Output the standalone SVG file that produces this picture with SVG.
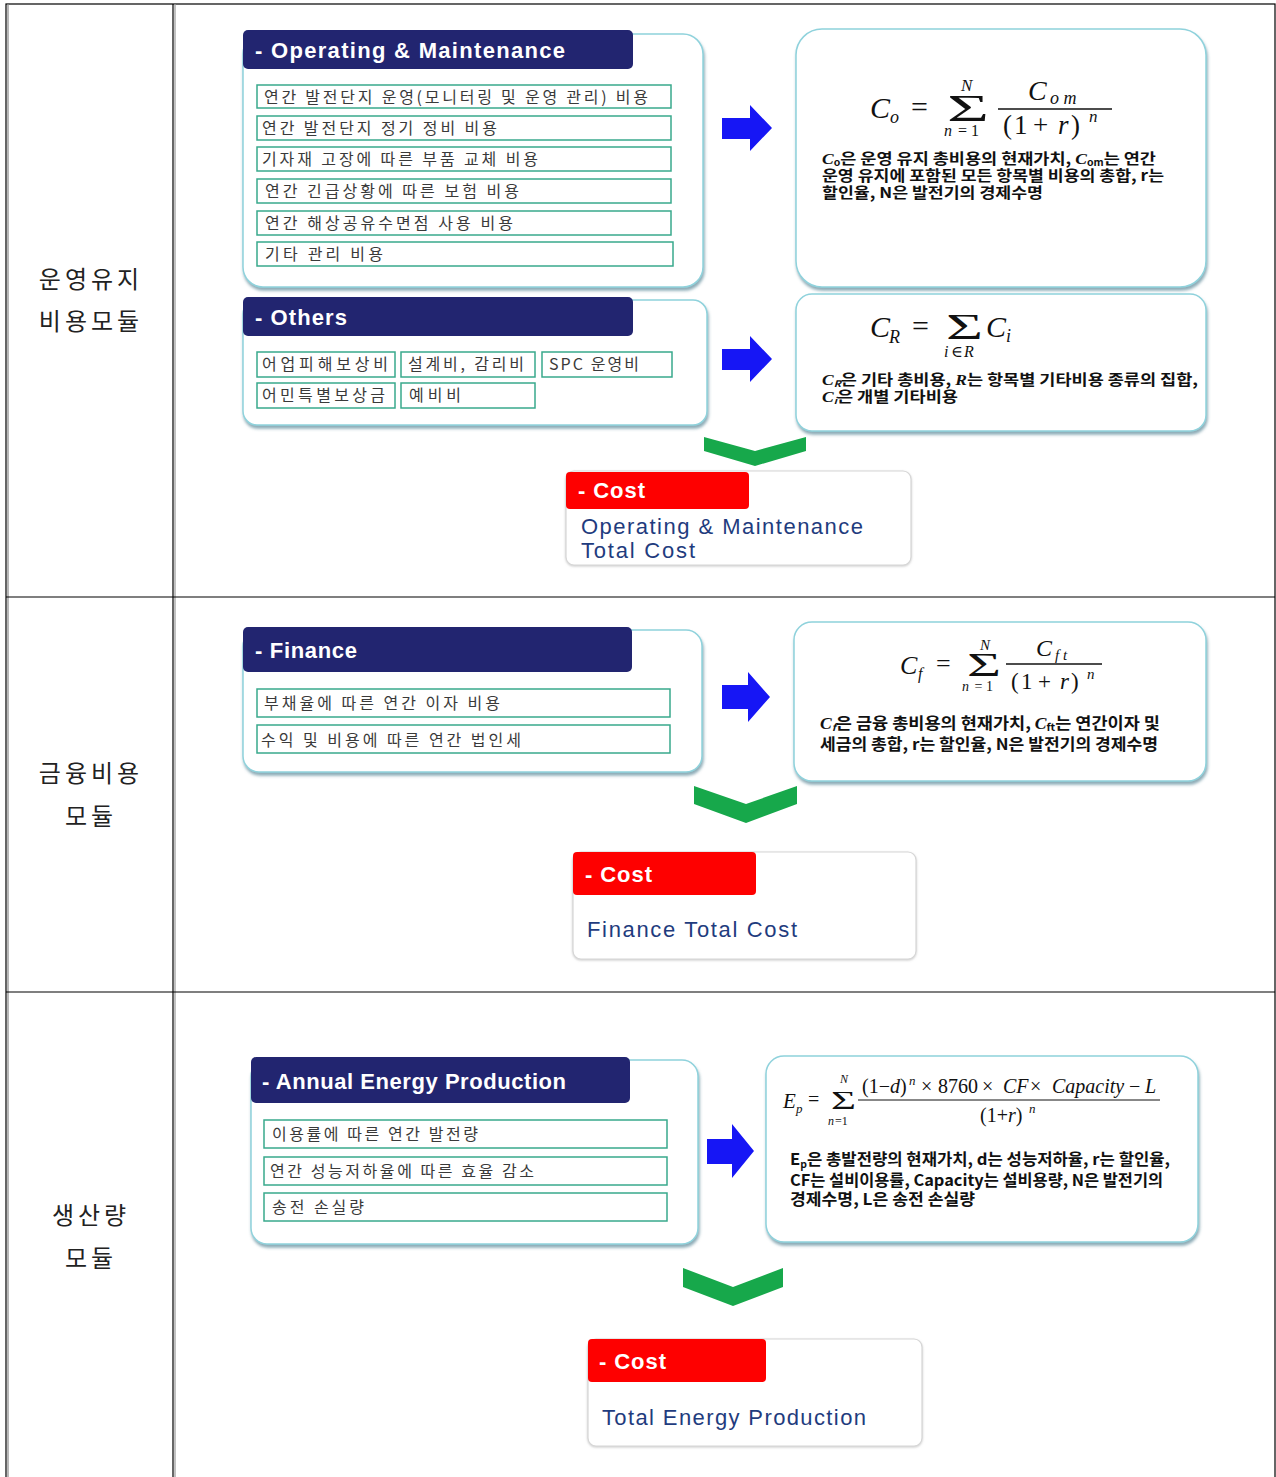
<svg xmlns="http://www.w3.org/2000/svg" width="1276" height="1477" viewBox="0 0 1276 1477">
<defs>
<filter id="sh" x="-5%" y="-5%" width="112%" height="115%">
<feDropShadow dx="1" dy="3" stdDeviation="1.8" flood-color="#4f7f90" flood-opacity="0.65"/>
</filter>
<filter id="sh2" x="-5%" y="-5%" width="110%" height="115%">
<feDropShadow dx="0" dy="1" stdDeviation="1" flood-color="#999" flood-opacity="0.5"/>
</filter>
</defs>
<style>
.tbl{stroke:#000;stroke-width:1.2;fill:none}
.lbl{font-family:"Noto Sans CJK KR",sans-serif;font-size:24px;fill:#222;letter-spacing:4px;text-anchor:middle}
.panel{fill:#fff;stroke:#8fd2dc;stroke-width:1.5}
.hdr{fill:#222570}
.hdt{font-family:"Liberation Sans","Noto Sans CJK KR",sans-serif;font-weight:bold;font-size:22px;fill:#fff}
.item{fill:#fff;stroke:#39a98c;stroke-width:1.5}
.itt{font-family:"Noto Sans CJK KR",sans-serif;font-size:16px;fill:#3a3a3a}
.arrow{fill:#1616f5}
.chev{fill:#17a84b}
.cbox{fill:#fff;stroke:#d6d6d6;stroke-width:1.2}
.red{fill:#fe0000}
.ctt{font-family:"Liberation Sans","Noto Sans",sans-serif;font-size:22px;fill:#1f3c7e}
.m{font-family:"Liberation Serif","DejaVu Serif",serif;fill:#111}
.i{font-style:italic}
.desc{font-family:"Noto Sans CJK KR",sans-serif;font-weight:bold;fill:#111}
.frac{stroke:#111;stroke-width:1.3}
</style>

<g id="table">
<rect class="tbl" x="6" y="4" width="1269" height="1480"/>
<line class="tbl" x1="8" y1="4" x2="8" y2="1477" style="stroke:#888"/>
<line class="tbl" x1="173" y1="4" x2="173" y2="1477"/>
<line class="tbl" x1="175" y1="4" x2="175" y2="1477" style="stroke:#999"/>
<line class="tbl" x1="6" y1="597" x2="1275" y2="597"/>
<line class="tbl" x1="6" y1="992" x2="1275" y2="992"/>
</g>

<g id="row-labels">
<text class="lbl" x="91" y="288">운영유지</text>
<text class="lbl" x="91" y="330">비용모듈</text>
<text class="lbl" x="91" y="782">금융비용</text>
<text class="lbl" x="91" y="825">모듈</text>
<text class="lbl" x="91" y="1224">생산량</text>
<text class="lbl" x="91" y="1267">모듈</text>
</g>

<!-- ===== Section 1 ===== -->
<g id="om-panel">
<rect class="panel" x="243" y="34" width="460" height="253" rx="20" filter="url(#sh)"/>
<rect class="hdr" x="243" y="30" width="390" height="39" rx="5"/>
<text class="hdt" x="255" y="58" textLength="310" lengthAdjust="spacing">- Operating &amp; Maintenance</text>
<rect class="item" x="257" y="85" width="414" height="23"/>
<text class="itt" x="264" y="103" textLength="384" lengthAdjust="spacing">연간 발전단지 운영(모니터링 및 운영 관리) 비용</text>
<rect class="item" x="257" y="116" width="414" height="24"/>
<text class="itt" x="262" y="134" textLength="235" lengthAdjust="spacing">연간 발전단지 정기 정비 비용</text>
<rect class="item" x="257" y="147" width="414" height="24"/>
<text class="itt" x="262" y="165" textLength="276" lengthAdjust="spacing">기자재 고장에 따른 부품 교체 비용</text>
<rect class="item" x="257" y="179" width="414" height="24"/>
<text class="itt" x="265" y="197" textLength="254" lengthAdjust="spacing">연간 긴급상황에 따른 보험 비용</text>
<rect class="item" x="257" y="211" width="414" height="24"/>
<text class="itt" x="265" y="229" textLength="248" lengthAdjust="spacing">연간 해상공유수면점 사용 비용</text>
<rect class="item" x="257" y="242" width="416" height="24"/>
<text class="itt" x="265" y="260" textLength="118" lengthAdjust="spacing">기타 관리 비용</text>
</g>

<g id="om-formula">
<rect class="panel" x="796" y="29" width="410" height="258" rx="26" filter="url(#sh)"/>
<text class="m"><tspan class="i" x="870" y="118" font-size="30">C</tspan><tspan class="i" x="890" y="123" font-size="18">o</tspan><tspan x="911" y="117" font-size="30">=</tspan><tspan x="947" y="121" font-size="38" textLength="42" lengthAdjust="spacingAndGlyphs">Σ</tspan><tspan class="i" x="961" y="91" font-size="17">N</tspan><tspan class="i" x="944" y="136" font-size="16">n</tspan><tspan x="954" y="136" font-size="16"> = 1</tspan><tspan class="i" x="1028" y="100" font-size="28">C</tspan><tspan class="i" x="1050" y="104" font-size="18">o m</tspan><tspan x="1003" y="134" font-size="27">(</tspan><tspan x="1014" y="134" font-size="27">1</tspan><tspan x="1033" y="134" font-size="27">+</tspan><tspan class="i" x="1058" y="134" font-size="27">r</tspan><tspan x="1071" y="134" font-size="27">)</tspan><tspan class="i" x="1089" y="122" font-size="17">n</tspan></text>
<line class="frac" x1="998" y1="109" x2="1112" y2="109"/>
<text class="desc" x="822" y="164" font-size="15" textLength="334" lengthAdjust="spacingAndGlyphs"><tspan font-style="italic" font-family="Liberation Serif,serif">C</tspan><tspan font-size="9" dy="2">o</tspan><tspan dy="-2">은 운영 유지 총비용의 현재가치, </tspan><tspan font-style="italic" font-family="Liberation Serif,serif">C</tspan><tspan font-size="9" dy="2">om</tspan><tspan dy="-2">는 연간</tspan></text>
<text class="desc" x="822" y="181" font-size="15" textLength="342" lengthAdjust="spacingAndGlyphs">운영 유지에 포함된 모든 항목별 비용의 총합, r는</text>
<text class="desc" x="822" y="198" font-size="15" textLength="221" lengthAdjust="spacingAndGlyphs">할인율, N은 발전기의 경제수명</text>
</g>

<g id="others-panel">
<rect class="panel" x="243" y="300" width="464" height="125" rx="14" filter="url(#sh)"/>
<rect class="hdr" x="243" y="297" width="390" height="39" rx="5"/>
<text class="hdt" x="255" y="325" textLength="92" lengthAdjust="spacing">- Others</text>
<rect class="item" x="257" y="352" width="138" height="25"/>
<text class="itt" x="262" y="370" textLength="126" lengthAdjust="spacing">어업피해보상비</text>
<rect class="item" x="401" y="352" width="134" height="25"/>
<text class="itt" x="408" y="370" textLength="116" lengthAdjust="spacing">설계비, 감리비</text>
<rect class="item" x="542" y="352" width="130" height="25"/>
<text class="itt" x="549" y="370" textLength="90" lengthAdjust="spacing">SPC 운영비</text>
<rect class="item" x="257" y="383" width="138" height="25"/>
<text class="itt" x="262" y="401" textLength="123" lengthAdjust="spacing">어민특별보상금</text>
<rect class="item" x="401" y="383" width="134" height="25"/>
<text class="itt" x="409" y="401" textLength="52" lengthAdjust="spacing">예비비</text>
</g>

<g id="others-formula">
<rect class="panel" x="796" y="294" width="410" height="137" rx="16" filter="url(#sh)"/>
<text class="m"><tspan class="i" x="870" y="337" font-size="30">C</tspan><tspan class="i" x="889" y="343" font-size="18">R</tspan><tspan x="912" y="336" font-size="30">=</tspan><tspan x="946" y="339" font-size="36" textLength="37" lengthAdjust="spacingAndGlyphs">Σ</tspan><tspan class="i" x="944" y="357" font-size="16">i</tspan><tspan x="951" y="357" font-size="16">∈</tspan><tspan class="i" x="964" y="357" font-size="16">R</tspan><tspan class="i" x="986" y="337" font-size="30">C</tspan><tspan class="i" x="1006" y="342" font-size="18">i</tspan></text>
<text class="desc" x="822" y="385" font-size="15" textLength="376" lengthAdjust="spacingAndGlyphs"><tspan font-style="italic" font-family="Liberation Serif,serif">C</tspan><tspan font-size="9" dy="2" font-style="italic">R</tspan><tspan dy="-2">은 기타 총비용, </tspan><tspan font-style="italic" font-family="Liberation Serif,serif">R</tspan><tspan>는  항목별 기타비용 종류의 집합,</tspan></text>
<text class="desc" x="822" y="402" font-size="15" textLength="136" lengthAdjust="spacingAndGlyphs"><tspan font-style="italic" font-family="Liberation Serif,serif">C</tspan><tspan font-size="9" dy="2" font-style="italic">i</tspan><tspan dy="-2">은 개별 기타비용</tspan></text>
</g>

<g id="om-cost">
<rect class="cbox" x="566" y="471" width="345" height="94" rx="8" filter="url(#sh2)"/>
<rect class="red" x="566" y="472" width="183" height="37" rx="4"/>
<text class="hdt" x="578" y="498" font-size="21" textLength="67" lengthAdjust="spacing">- Cost</text>
<text class="ctt" x="581" y="534" textLength="282" lengthAdjust="spacing">Operating &amp; Maintenance</text>
<text class="ctt" x="581" y="558" textLength="114" lengthAdjust="spacing">Total Cost</text>
</g>

<!-- ===== Section 2 ===== -->
<g id="finance-panel">
<rect class="panel" x="243" y="630" width="459" height="142" rx="16" filter="url(#sh)"/>
<rect class="hdr" x="243" y="627" width="389" height="45" rx="5"/>
<text class="hdt" x="255" y="658" textLength="102" lengthAdjust="spacing">- Finance</text>
<rect class="item" x="257" y="689" width="413" height="28"/>
<text class="itt" x="264" y="709" font-size="17" textLength="236" lengthAdjust="spacing">부채율에 따른 연간 이자 비용</text>
<rect class="item" x="257" y="725" width="413" height="28"/>
<text class="itt" x="261" y="746" font-size="17" textLength="260" lengthAdjust="spacing">수익 및 비용에 따른 연간 법인세</text>
</g>

<g id="finance-formula">
<rect class="panel" x="794" y="622" width="412" height="159" rx="18" filter="url(#sh)"/>
<text class="m"><tspan class="i" x="900" y="674" font-size="26">C</tspan><tspan class="i" x="918" y="679" font-size="16">f</tspan><tspan x="936" y="672" font-size="26">=</tspan><tspan x="967" y="676" font-size="33" textLength="34" lengthAdjust="spacingAndGlyphs">Σ</tspan><tspan class="i" x="980" y="650" font-size="15">N</tspan><tspan class="i" x="962" y="691" font-size="14">n</tspan><tspan x="971" y="691" font-size="14"> = 1</tspan><tspan class="i" x="1036" y="656" font-size="24">C</tspan><tspan class="i" x="1055" y="660" font-size="15">f t</tspan><tspan x="1011" y="689" font-size="23">(</tspan><tspan x="1021" y="689" font-size="23">1</tspan><tspan x="1038" y="689" font-size="23">+</tspan><tspan class="i" x="1060" y="689" font-size="23">r</tspan><tspan x="1071" y="689" font-size="23">)</tspan><tspan class="i" x="1087" y="679" font-size="15">n</tspan></text>
<line class="frac" x1="1006" y1="664" x2="1102" y2="664"/>
<text class="desc" x="820" y="729" font-size="16" textLength="340" lengthAdjust="spacingAndGlyphs"><tspan font-style="italic" font-family="Liberation Serif,serif">C</tspan><tspan font-size="10" dy="2" font-style="italic">f</tspan><tspan dy="-2">은 금융 총비용의 현재가치, </tspan><tspan font-style="italic" font-family="Liberation Serif,serif">C</tspan><tspan font-size="10" dy="2">ft</tspan><tspan dy="-2">는 연간이자 및</tspan></text>
<text class="desc" x="820" y="750" font-size="16" textLength="338" lengthAdjust="spacingAndGlyphs">세금의 총합, r는 할인율, N은 발전기의 경제수명</text>
</g>

<g id="finance-cost">
<rect class="cbox" x="573" y="852" width="343" height="107" rx="8" filter="url(#sh2)"/>
<rect class="red" x="573" y="852" width="183" height="43" rx="4"/>
<text class="hdt" x="585" y="882" font-size="21" textLength="67" lengthAdjust="spacing">- Cost</text>
<text class="ctt" x="587" y="937" textLength="210" lengthAdjust="spacing">Finance Total Cost</text>
</g>

<!-- ===== Section 3 ===== -->
<g id="aep-panel">
<rect class="panel" x="251" y="1060" width="447" height="184" rx="16" filter="url(#sh)"/>
<rect class="hdr" x="251" y="1057" width="379" height="46" rx="5"/>
<text class="hdt" x="262" y="1089" textLength="304" lengthAdjust="spacing">- Annual Energy Production</text>
<rect class="item" x="264" y="1120" width="403" height="28"/>
<text class="itt" x="272" y="1140" font-size="17" textLength="206" lengthAdjust="spacing">이용률에 따른 연간 발전량</text>
<rect class="item" x="264" y="1157" width="403" height="28"/>
<text class="itt" x="270" y="1177" font-size="17" textLength="264" lengthAdjust="spacing">연간 성능저하율에 따른 효율 감소</text>
<rect class="item" x="264" y="1193" width="403" height="28"/>
<text class="itt" x="272" y="1213" font-size="17" textLength="92" lengthAdjust="spacing">송전 손실량</text>
</g>

<g id="aep-formula">
<rect class="panel" x="766" y="1056" width="432" height="186" rx="18" filter="url(#sh)"/>
<text class="m"><tspan class="i" x="783" y="1108" font-size="21">E</tspan><tspan class="i" x="796" y="1113" font-size="13">p</tspan><tspan x="808" y="1106" font-size="20">=</tspan><tspan x="831" y="1109" font-size="26" textLength="25" lengthAdjust="spacingAndGlyphs">Σ</tspan><tspan class="i" x="840" y="1083" font-size="12">N</tspan><tspan class="i" x="828" y="1125" font-size="12">n</tspan><tspan x="835" y="1125" font-size="12">=1</tspan><tspan x="862" y="1093" font-size="20">(1−</tspan><tspan class="i" font-size="20">d</tspan><tspan font-size="20">)</tspan><tspan class="i" x="909" y="1085" font-size="13">n</tspan><tspan x="921" y="1093" font-size="20">×</tspan><tspan x="938" y="1093" font-size="20">8760</tspan><tspan x="982" y="1093" font-size="20">×</tspan><tspan class="i" x="1003" y="1093" font-size="20">CF</tspan><tspan x="1030" y="1093" font-size="20">×</tspan><tspan class="i" x="1052" y="1093" font-size="20">Capacity</tspan><tspan x="1129" y="1093" font-size="20">−</tspan><tspan class="i" x="1145" y="1093" font-size="20">L</tspan><tspan x="980" y="1122" font-size="20">(1+</tspan><tspan class="i" font-size="20">r</tspan><tspan font-size="20">)</tspan><tspan class="i" x="1029" y="1113" font-size="13">n</tspan></text>
<line class="frac" x1="858" y1="1100" x2="1160" y2="1100" style="stroke-width:1"/>
<text class="desc" x="790" y="1165" font-size="16" textLength="380" lengthAdjust="spacingAndGlyphs">E<tspan font-size="10" dy="3">p</tspan><tspan dy="-3">은 총발전량의 현재가치, d는 성능저하율, r는 할인율,</tspan></text>
<text class="desc" x="790" y="1186" font-size="16" textLength="373" lengthAdjust="spacingAndGlyphs">CF는 설비이용률, Capacity는 설비용량, N은 발전기의</text>
<text class="desc" x="790" y="1205" font-size="16" textLength="185" lengthAdjust="spacingAndGlyphs">경제수명, L은 송전 손실량</text>
</g>

<g id="aep-cost">
<rect class="cbox" x="588" y="1339" width="334" height="107" rx="8" filter="url(#sh2)"/>
<rect class="red" x="588" y="1339" width="178" height="43" rx="4"/>
<text class="hdt" x="599" y="1369" font-size="21" textLength="67" lengthAdjust="spacing">- Cost</text>
<text class="ctt" x="602" y="1425" textLength="264" lengthAdjust="spacing">Total Energy Production</text>
</g>

<g id="connectors">
<polygon class="arrow" points="722,118 750,118 750,105 772,128 750,151 750,139 722,139"/>
<polygon class="arrow" points="722,349 750,349 750,336 772,359 750,382 750,370 722,370"/>
<polygon class="arrow" points="722,685 748,685 748,672 770,697 748,722 748,709 722,709"/>
<polygon class="arrow" points="707,1139 732,1139 732,1124 754,1151 732,1178 732,1164 707,1164"/>
<polygon class="chev" points="704,437 755,451 806,437 806,451 755,466 704,451"/>
<polygon class="chev" points="694,786 746,804 797,786 797,804 746,823 694,804"/>
<polygon class="chev" points="683,1268 733,1287 783,1268 783,1287 733,1306 683,1287"/>
</g>
</svg>
